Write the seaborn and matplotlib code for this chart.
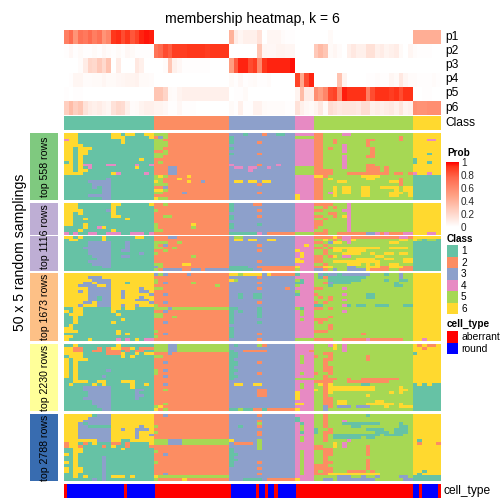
import numpy as np
import matplotlib
matplotlib.use("Agg")
import matplotlib.pyplot as plt
import seaborn as sns
from matplotlib.colors import ListedColormap, LinearSegmentedColormap, Normalize
from matplotlib.cm import ScalarMappable


sns.set_theme(style="white")
plt.rcParams['font.family'] = ['Liberation Sans', 'DejaVu Sans']


# data
class_colors = ["#66C2A5", "#FC8D62", "#8DA0CB", "#E78AC3", "#A6D854", "#FFD92F"]
class_labels = ["1", "2", "3", "4", "5", "6"]
class_widths = [19, 16, 14, 4, 21, 6]
type_colors = ["#FF0000", "#0000FF"]
type_labels = ["aberrant", "round"]
prob_ticks = [0, 0.2, 0.4, 0.6, 0.8, 1]

# membership in percent, one list per class block
p1 = [65, 75, 55, 72, 68, 75, 66, 72, 55, 62, 92, 94, 85, 92, 82, 88, 95, 97, 96] + [0] * 16 + \
     [40, 10, 5, 8, 8, 8, 15, 0, 5, 5, 5, 2, 1, 1] + [0] * 4 + [0, 0, 0, 3] + [0] * 17 + [42] * 6
p2 = [1, 4, 1, 3, 1, 1, 3, 1, 4, 2, 1, 3, 1, 4, 3, 1, 1, 1, 1] + \
     [70, 75, 85, 80, 90, 90, 90, 92, 92, 92, 92, 90, 92, 92, 92, 92] + \
     [0, 0, 0, 0, 0, 0, 30, 5, 4, 4, 6, 6, 5, 5] + [0] * 4 + \
     [28, 36, 30, 3, 5, 2, 0, 8, 12, 8, 8, 16, 16, 8, 10, 6, 8, 10, 3, 0, 5] + [2, 1, 1, 1, 0, 0]
p3 = [0, 0, 0, 2, 10, 22, 20, 28, 20, 32, 0, 10, 0, 0, 0, 12, 8, 0, 0] + \
     [0, 0, 2, 30, 8, 4, 1, 1, 1, 1, 1, 1, 0, 0, 0, 0] + \
     [50, 80, 95, 95, 85, 90, 60, 92, 95, 95, 95, 95, 95, 98] + [0] * 31
p4 = [0, 1, 5, 5, 2, 2, 3, 3, 5, 3, 3, 4, 5, 6, 6, 7, 3, 3, 2] + [0] * 16 + \
     [3, 1, 4, 1, 2, 3, 1, 1, 2, 0, 0, 0, 0, 0] + [88, 45, 85, 95] + \
     [0, 0, 0, 0, 0, 32, 6, 0, 0, 0, 0, 1, 1, 2, 1, 1, 5, 3, 12, 5, 2] + [2, 1, 1, 1, 2, 1]
p5 = [1, 0, 1, 1] + [0] * 15 + [30, 30, 22, 3, 2, 6, 8, 8, 8, 8, 8, 8, 8, 8, 8, 8] + \
     [0, 1, 1, 3] + [0] * 10 + [6, 35, 10, 10] + \
     [58, 50, 62, 85, 88, 60, 96, 93, 93, 93, 93, 65, 85, 93, 93, 93, 90, 93, 85, 93, 93] + [0, 0, 1, 1, 0, 0]
p6 = [25, 35, 25, 30, 15, 10, 8, 10, 7, 5, 15, 20, 18, 8, 2, 3, 6, 8, 8] + \
     [6, 6, 4, 1, 1, 4, 1, 1, 1, 0, 0, 0, 0, 0, 0, 0] + \
     [3, 1, 8, 1, 1, 7, 7, 3, 2, 2, 2, 2, 1, 1] + [15, 8, 4, 3] + \
     [6, 12, 3, 18, 15, 12, 14, 14, 14, 12, 18, 18, 8, 10, 8, 10, 12, 8, 14, 6, 8] + [58, 56, 56, 58, 58, 58]
membership = [p1, p2, p3, p4, p5, p6]
member_names = ["p1", "p2", "p3", "p4", "p5", "p6"]

# cell type runs (type index, number of columns)
type_runs = [(0, 1), (1, 18), (0, 1), (1, 9), (0, 24), (1, 8), (0, 1), (1, 2), (0, 1), (1, 2),
             (0, 1), (1, 6), (0, 37), (1, 2), (0, 1), (1, 5), (0, 1)]

# consensus classes, block per block in each row
top_558 = [
    "6661111111661661166 5552222222222222 33313332331133 4444 225555445555555555555 666666",
    "6661111111666111116 2352222222222222 13333333333333 5555 225555555555555555255 666666",
    "4661111111116111111 5522222222222222 13333333333333 4444 225525555552255555255 666446",
    "6661111111116111111 5552222222222222 13333323333333 4444 225525555552555555555 666666",
    "6666111111111111111 5552222222222222 33333333333333 4444 225555455552555555555 666666",
    "6616661111111111111 5522222222222222 13333333333333 4444 225255455555255555555 666666",
    "6616611111111111111 2252222222222222 33333333333333 4444 225555455555255555555 666666",
    "6616611111111111111 5552222222222222 13333323333333 4444 225555555555255555555 666166",
    "6616111111111111111 5522222222222222 33333333333333 4444 225555455552255555555 666666",
    "6616111111111111611 2222222222222222 33333333333333 4444 225555455555555555555 166666",
    "1616111111111111111 2522222222222222 33333333333333 4444 225555455555555555555 166166",
    "6616441114411114114 2222222222222222 43333323334333 4444 225555455552255555555 666666",
    "6616141111111116111 2223322222222222 34434433433333 5555 225555455552225255555 666666",
    "6616611111111111111 2223322222222222 33334333333333 5555 222255555552225255555 666666",
    "6666111111641111141 2223322222222222 33333333333333 5555 222255522222222252252 466466",
    "1111111111111111111 5652222622222222 33333333333333 4444 662555555566665555555 111111",
    "1111111113111111111 5522262222222222 33333333333333 4444 225655555556655555255 111111",
    "1111133333111111111 6522222622322222 36636636633333 4444 225556655555555566255 111111",
    "1111113333111111111 5552222222222222 33333323333333 4444 225555555555555555255 111111",
    "1111113133111111111 2232222222222222 33333333333333 4444 225565665566556666566 111111",
    "1111111133111111111 6652222222222222 33333333333333 4444 225565665566555556566 111111",
    "1111111133111111111 5522223222222222 33333323333333 4444 225465665566555566656 111111",
    "1111133333111111111 2222222222222222 33333333333333 6444 225565555566555566556 111111",
    "1111111133111111111 6552222222222222 33333333333333 6444 225555555555555555555 111111",
]
top_1116_a = [
    "6661111111661111116 2252222222222222 13333223333333 4444 222255545555555555555 666666",
    "6661111111611111111 2222222222222222 13333333333333 4444 552525545555555555555 666666",
    "6666111113611111111 5222222222222222 13333323333333 4444 225555445555555555555 666666",
    "6616111111611111111 2222222222222222 33333333333333 4444 555225545555555555555 666666",
    "6611111111661111111 2255222222222222 13333323333333 4444 225525645555555555555 666666",
    "6611611111111611111 2222222222222222 13333333333333 4444 552555545555555555555 666666",
    "6611111111111111111 2222222222222222 33333333333333 4444 225555545555555555555 666666",
    "6611611111111111111 5222222262222222 13333313333333 4444 225555545555555555555 666666",
    "1111611461111111111 5222222252222222 13333333333333 4444 255555545555555555555 666666",
    "1116111111611111111 5522222222222222 33333333333333 4444 552555545555555555555 666666",
    "4141144114441144414 2222222222222222 11111143222222 5555 222552222223342422244 666446",
]
top_1116_b = [
    "6616111161111116611 2223322222222222 35533333333333 4444 222262442222222222442 666666",
    "1661111161111111111 2222222222222222 36636633663333 4444 556525446555555555665 651551",
    "1111133333111311111 5552252222222222 33333333333333 4444 225366545555555566555 111111",
    "1111133333111311111 5232222222222222 33333323333333 4464 552555555555555555555 111111",
    "1111333333111311111 5522522222222222 33333333333333 4444 225266666666665566665 111111",
    "1111133333113311111 2252222222222222 33333323333333 6444 552566566665555555555 111111",
    "1111133333111111311 5222222222222222 33333333333333 4644 552555666655655665665 111111",
    "1111113333113311111 2222222252222222 33333333333333 4644 225265445555566555555 111111",
    "1111111333111111111 2222222222222222 33333333333333 6444 225555555666655665566 111111",
    "1111133333111111111 2222222222222222 33333323333333 6644 225566666666665555566 111111",
    "1111113333111111111 5522226622222222 33333333333333 4444 552555566656565566555 111111",
    "1111111133111111111 3522222222222222 11113322222222 6444 226655533556662266622 111111",
    "1111111111111111111 5233332233233333 11111332222222 5444 332535533336222255222 111111",
]
top_1673 = [
    "6666666666666666666 3532222322222222 66566663622222 1444 531331333333555155355 666666",
    "6666633366666666666 2222222222222222 33333323333333 4444 512111111115555555355 666666",
    "6666663333666666666 5222222222222222 65333333333333 5144 555111111155555155115 666666",
    "6666336333666166666 5232222252222222 33333323333333 1144 552311115555555551555 666666",
    "6663333663666666666 2222222222222522 33333333333333 5444 555155555555555551155 666666",
    "6666633333666666366 5522222222222222 33333323333323 4444 225555455555555555555 666666",
    "6663633333663666336 2222222222222222 33333333333333 5444 555555555555555555555 666666",
    "6666633333663666663 2232222222222222 33133113333333 1444 255555455551155555555 666666",
    "6666633133663666366 2222222222222222 33133113333333 4444 525255555551155555555 666666",
    "6666633133666663336 2222222222222222 33333333333333 4444 555255455555555555555 666666",
    "6666336333666666663 2232222222222222 33333323333333 4444 252555555555555555555 666666",
    "6663666333663663666 5222222222222222 33333333333333 4444 115555415115511155511 666666",
    "1166111111661661111 5553555555555555 11333313333333 5144 225255555555555555555 666666",
    "6166111111611111111 2232222222222222 13133313333333 4544 555555455555555555555 666666",
    "1666111111161111111 5522222222222222 13333313333333 4544 555555555555555555555 666666",
    "1161111111111111111 5522522222222222 13333313333333 4444 555255555555555555555 666666",
    "1161111111116111111 2222222222222222 13333333333333 4544 222555555555555555555 666666",
    "1161111111611111111 2232222222222222 13333313333333 4444 525555555555555555555 666666",
    "1611111111111111111 2222222222222222 33333333333333 4444 555255555555555555555 666666",
    "6611111111111111111 2222222222222222 13333333333333 4444 555255555555555555555 666666",
    "6661111111161111111 5222222222222222 13333333333333 4444 222555555555555555555 666666",
    "1111111111161611111 2232222222222222 13333323333333 4444 555555555525555555555 666666",
    "6611111111111111111 5222222222222222 13333333333333 4444 555555555555555555555 666666",
    "6111161111141416144 2222222222222222 33333323333333 5555 222255222224222222255 664666",
]
top_2230 = [
    "1161111111161111111 5553355555555555 31333352333333 4444 555465455555555555555 626226",
    "6622111212662261222 5553355555555555 33333333333333 4444 555565455555555555555 662666",
    "6622112212221212211 5553355555555555 13322222333333 4442 555555455555555555555 666666",
    "6666111112226116166 2223222222222222 11333333333333 4444 552255555555555555555 166666",
    "1666111111116161111 5522222222222222 11333333333333 4544 255255555552555555555 666666",
    "6166611111111111111 2222222222222222 13333333333333 4544 552255555552555555555 666666",
    "6161111111111111111 2232222222222222 11333323333333 4544 552555555555555555555 666666",
    "6161111111111111111 2222222222222222 11333333333333 4444 552555555555555555555 666666",
    "6161111111111111111 2222222222222222 13333333333333 4444 552255555555555555555 666666",
    "6161111113111111111 5232222222222222 11333333333333 4444 552255555555555555555 666666",
    "6161111111111111111 5222222222222222 13333323333333 4544 255255555555555555555 666666",
    "6161111131111111111 2232222222222222 11333333333333 4444 552555555555555555555 666666",
    "1161111111111111111 2222222222222222 13333333333333 5555 552225525522222222555 666666",
    "1166611661116661111 2222222222222222 33333333333333 4444 222255522222222255555 666666",
    "1611116161111161161 2232222222222222 36633663333333 4544 562655555511555555555 161611",
    "1111333333111161111 2222222222222222 33333333333333 4544 552666666666655555655 111111",
    "1111333333111113311 2252222222222222 33333322333333 4444 652666666666655555665 111111",
    "1111133333111113111 2222222222222222 33333322333333 6444 552655555555555565655 111111",
    "1111133333111113311 2222222222222222 33333322333333 6444 552555555556555555555 111111",
    "1111333333111113111 2222222222222222 33333333333333 6444 552255555555555555555 111111",
    "1111113333111111111 2222222222222222 33333333333333 4444 552256655555566555555 111111",
    "1111113333111111111 2252222222222222 33333333333333 6644 552256655556666665655 111111",
    "1111111333111111111 5622222222222222 33333333333333 4444 553253335333555655666 111111",
    "1111111133111111111 6252222222222222 11511221222222 6444 553555555555555555555 111111",
]
top_2788 = [
    "6666661333666666666 2232222222222222 33333323333333 4444 552555555551555555555 666666",
    "6666633333666666666 2222222222222222 33333333333333 1444 552555555555555555555 666666",
    "6666333333666666666 2222222222222222 33333323333333 1444 552555455555555555555 666666",
    "6663133333666666666 2222222222222222 33333353333333 4144 552555111111115555155 666666",
    "6663311111666666366 5222222222222222 33133323333333 4544 552555551155555555115 666666",
    "6663333333663663336 2222222222222222 33333333333333 4544 155255555551111551115 666666",
    "6663333333666663666 5222222222222222 33333323333333 4144 152255555555511151115 666666",
    "6663333333666663663 2222222222222222 33333323333333 4444 552511111111115111155 666666",
    "6663333333666663666 2222222222222222 33333333333333 4544 552511111151155555555 666666",
    "6666666333661166666 5553335555555555 63333353333333 4544 552555545555555555555 616666",
    "2661216111221211116 5553335555555555 32222353333333 4444 555565455555555555555 626662",
    "2662111121611211112 2222222222222222 33333353333333 4444 225565455552555555555 666666",
    "1166111111116111111 2222222222222222 13333353333333 4444 222255555552555555555 666666",
    "1166111111111111111 5222222222222222 13333333333333 4544 552255555552555555555 666666",
    "6161111111111111111 2232222222222222 11333333333333 4544 552255555552555555555 666666",
    "1161111131111111111 2222222222222222 13333333333333 4544 552555555555555555555 666666",
    "1161111131111111111 2222222222222222 11333333333333 4544 552555555552555555555 666666",
    "6161111131111111111 5222222222222222 13333323333333 4544 552255555552555555555 666666",
    "1161111131111111111 2222222222222222 13333333333333 4544 222555555552555555555 666666",
    "6166111131111111111 2222222222222222 33333323333333 4544 222255555552555555555 666666",
    "6166111131111111111 2222222222222222 33333333333333 4544 252255522225255555555 661666",
    "1161111131111111111 2232222222222222 33333323333333 4544 222666666666665555555 616666",
    "1161611131666161111 6555555555555555 33333333333333 4444 555553335535535555335 111111",
    "1111113131111111111 5222226222222222 33311113222222 6444 553353333333355555533 111111",
]

# panel name, rows, top and bottom pixel, side colour
panels = [
    ("top 558 rows", top_558, 133, 200, "#7FC97F"),
    ("", top_1116_a, 203, 235, "#BEAED4"),
    ("", top_1116_b, 236, 271, "#BEAED4"),
    ("top 1673 rows", top_1673, 273, 341, "#FDC086"),
    ("top 2230 rows", top_2230, 344, 411, "#FFFF99"),
    ("top 2788 rows", top_2788, 414, 481, "#386CB0"),
]


# layout helpers, everything in pixels from top left
fig = plt.figure(figsize=(7, 7), dpi=72)
SIZE = 504
LEFT = 64
RIGHT = 441


def px_axes(x0, y0, x1, y1):
    return fig.add_axes([x0 / SIZE, 1 - y1 / SIZE, (x1 - x0) / SIZE, (y1 - y0) / SIZE])


def px_text(x, y, s, **kw):
    kw.setdefault("va", "center")
    kw.setdefault("color", "black")
    fig.text(x / SIZE, 1 - y / SIZE, s, **kw)


def flat_heatmap(ax, data, cmap, vmin, vmax):
    sns.heatmap(data, ax=ax, cmap=cmap, vmin=vmin, vmax=vmax, cbar=False,
                xticklabels=False, yticklabels=False)
    ax.set_xlabel("")
    ax.set_ylabel("")


def parse_rows(rows):
    out = []
    for row in rows:
        blocks = row.split()
        cells = []
        for block, width in zip(blocks, class_widths):
            cells += [int(c) for c in (block + block[-1] * width)[:width]]
        out.append(cells)
    return np.array(out)


class_cmap = ListedColormap(class_colors)
type_cmap = ListedColormap(type_colors)
prob_cmap = LinearSegmentedColormap.from_list(
    "prob", [(0, "#FFFFFF"), (0.25, "#FFCFC0"), (0.5, "#FF9E81"), (0.75, "#FF6B4F"),
             (0.93, "#FF3418"), (1, "#FF0000")])


# title
px_text(252.5, 19, "membership heatmap, k = 6", ha="center", fontsize=14)

# membership rows
ax = px_axes(LEFT, 30, RIGHT, 115)
flat_heatmap(ax, np.array(membership) / 100, prob_cmap, 0, 1)
for i, name in enumerate(member_names):
    px_text(445, 37 + i * 14.1, name, fontsize=12)

# class strip
class_row = np.repeat(np.arange(1, 7), class_widths).reshape(1, -1)
ax = px_axes(LEFT, 116, RIGHT, 130)
flat_heatmap(ax, class_row, class_cmap, 0.5, 6.5)
px_text(445, 123, "Class", fontsize=12)

# consensus panels
for name, rows, y0, y1, side in panels:
    ax = px_axes(LEFT, y0, RIGHT, y1)
    flat_heatmap(ax, parse_rows(rows), class_cmap, 0.5, 6.5)
    ax = px_axes(30, y0, 58, y1)
    ax.set_facecolor(side)
    ax.set_xticks([])
    ax.set_yticks([])
    for s in ax.spines.values():
        s.set_visible(False)
    if name:
        px_text(45, (y0 + y1) / 2, name, rotation=90, ha="center", fontsize=10.5)
px_text(45, 237, "top 1116 rows", rotation=90, ha="center", fontsize=10.5)
px_text(20, 252, "50 x 5 random samplings", rotation=90, ha="center", fontsize=14)

# cell type strip
type_row = np.concatenate([[t] * n for t, n in type_runs]).reshape(1, -1)
ax = px_axes(LEFT, 484, RIGHT, 498)
flat_heatmap(ax, type_row, type_cmap, -0.5, 1.5)
px_text(444, 491, "cell_type", fontsize=12)

# legends
px_text(447, 153.5, "Prob", fontsize=10, fontweight="bold")
cax = px_axes(446, 162, 459, 227)
cb = fig.colorbar(ScalarMappable(Normalize(0, 1), prob_cmap), cax=cax, ticks=prob_ticks)
cb.outline.set_visible(False)
cb.ax.set_yticklabels(["0", "0.2", "0.4", "0.6", "0.8", "1"], fontsize=10)
cb.ax.tick_params(direction="in", color="white", length=2, width=0.7, pad=2, right=True)

px_text(447, 239, "Class", fontsize=10, fontweight="bold")
ax = px_axes(447, 245, 458, 314)
flat_heatmap(ax, np.arange(1, 7).reshape(-1, 1), class_cmap, 0.5, 6.5)
for i, lab in enumerate(class_labels):
    px_text(461, 251 + i * 11.6, lab, fontsize=10)

px_text(447, 324, "cell_type", fontsize=10, fontweight="bold")
ax = px_axes(447, 331, 458, 354)
flat_heatmap(ax, np.array([[0], [1]]), type_cmap, -0.5, 1.5)
for i, lab in enumerate(type_labels):
    px_text(461, 337 + i * 11.6, lab, fontsize=10.4)

fig.savefig("out.png", dpi=72)
